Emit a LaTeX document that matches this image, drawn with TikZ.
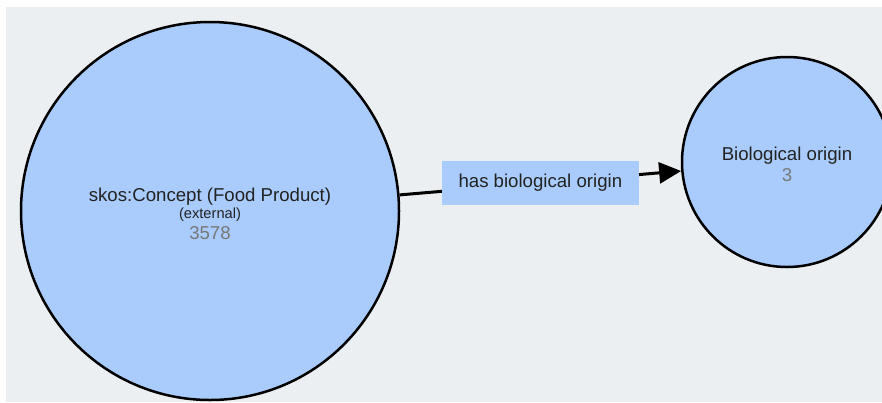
\documentclass[tikz,border=0pt]{standalone}
\usepackage{fontspec}
\setmainfont{Liberation Sans}
\usetikzlibrary{arrows.meta}
\definecolor{nodeblue}{RGB}{170,204,253}
\definecolor{canvasgray}{RGB}{236,239,241}
\definecolor{countgray}{RGB}{119,119,119}
\definecolor{textdark}{RGB}{34,34,34}
\tikzset{
  classnode/.style={circle, draw=black, line width=2.5bp, fill=nodeblue, inner sep=0pt,
    align=center, text=textdark, font=\fontsize{18.7}{19}\selectfont},
  proplabel/.style={fill=nodeblue, inner sep=0pt, minimum width=197bp, minimum height=44bp,
    text=textdark, font=\fontsize{18.7}{19}\selectfont}
}
\begin{document}
\begin{tikzpicture}[x=1bp,y=-1bp]
        \useasboundingbox (0,0) rectangle (882,402);
        \clip (0,0) rectangle (882,402);
        \fill[canvasgray] (6,7) rectangle (882,402);
        \node[classnode, minimum size=378bp] (concept) at (210,211)
            {\rule{0pt}{20bp}skos:Concept (Food Product)\\[-2bp]{\fontsize{14.7}{15}\selectfont (external)}\\[2bp]\textcolor{countgray}{3578}};
        \node[classnode, minimum size=210bp] (origin) at (787,162)
            {\rule{0pt}{19bp}Biological origin\\[2bp]\textcolor{countgray}{3}};
        \draw[line width=3bp, -{Triangle[length=22bp,width=21bp]}] (concept)
            -- node[proplabel] (hasorigin) {has biological origin} (origin);
    \end{tikzpicture}
\end{document}
